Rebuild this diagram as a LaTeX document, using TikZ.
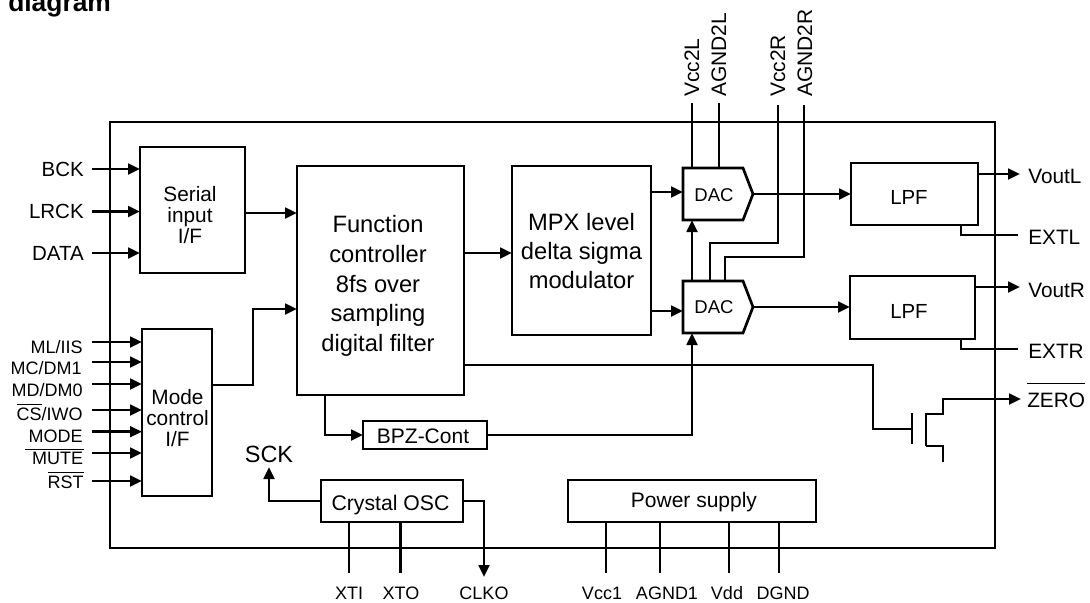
\documentclass[tikz,border=0pt]{standalone}
\usepackage{fontspec}
\setmainfont{Liberation Sans}
\usetikzlibrary{arrows.meta}
\newcommand{\sz}[1]{\fontsize{\dimexpr #1pt*3/4\relax}{\dimexpr #1pt*3/4*6/5\relax}\selectfont}
\newcommand{\ovl}[2]{\leavevmode\vbox{\hrule height 0.8pt\kern #1\hbox{#2}}}
\newcommand{\bx}[6][]{\node[boxs,#1,minimum width={(#4-#2)*0.75pt},minimum height={(#5-#3)*0.75pt}] (#6) at ({(#2+#4)/2},{(#3+#5)/2}) {};}
\tikzset{
  wire/.style={line width=2pt,line join=miter},
  arr/.style={wire,-{Triangle[length=9pt,width=8pt]}},
  boxs/.style={draw,line width=2pt,inner sep=0pt,outer sep=0pt},
  leftlab/.style={anchor=base east,inner sep=0pt,font=\sz{18}},
  biglab/.style={anchor=base east,inner sep=0pt,font=\sz{20.5}},
  rightlab/.style={anchor=base west,inner sep=0pt,font=\sz{20.8}},
  botlab/.style={anchor=base,inner sep=0pt,font=\sz{18}},
  toplab/.style={anchor=west,rotate=90,inner sep=0pt,font=\sz{21}},
  txt/.style={align=center,inner sep=0pt,font=\sz{20.8}},
  base/.style={anchor=base,inner sep=0pt},
  bigtxt/.style={align=center,inner sep=0pt,font=\sz{23.7}},
}
\begin{document}
\begin{tikzpicture}[x=0.75pt,y=-0.75pt]
\useasboundingbox (0,0) rectangle (1090,603);
\fill[white] (0,0) rectangle (1090,603);
\node[anchor=base west,inner sep=0pt,font=\bfseries\sz{26.4}] (title) at (8,12) {diagram};
% boxes
\bx{110}{122}{995}{548}{main}
\bx{140}{147}{245}{273}{ser}
\bx{297}{166}{464}{395}{fn}
\bx{142}{329}{212}{496}{mode}
\bx{512}{166}{651}{335}{mpx}
\bx{851}{163}{978}{225}{lpfL}
\bx{850}{276}{975}{339}{lpfR}
\bx{363}{421}{487}{449}{bpz}
\bx{321}{480}{463}{522}{xtal}
\bx{568}{480}{816}{522}{pwr}
% DACs
\bx[draw=none]{683}{168}{753}{220}{dacL}
\bx[draw=none]{683}{281}{753}{333}{dacR}
\draw[wire] (dacL.north west) -- ([xshift=-7.5pt]dacL.north east) -- (dacL.east) -- ([xshift=-7.5pt]dacL.south east) -- (dacL.south west) -- cycle;
\draw[wire] (dacR.north west) -- ([xshift=-7.5pt]dacR.north east) -- (dacR.east) -- ([xshift=-7.5pt]dacR.south east) -- (dacR.south west) -- cycle;
% box texts
\node[txt] (serT) at (190,215) {Serial\\[-3pt]input\\[-3pt]I/F};
\node[txt] (modeT) at (177.5,418) {Mode\\[-3pt]control\\[-3pt]I/F};
\node[bigtxt] (fnT) at (378,286) {Function\\[.9pt]controller\\[.9pt]8fs over\\[.9pt]sampling\\[.9pt]digital filter};
\node[bigtxt] (mpxT) at (581.5,251) {MPX level\\[.65pt]delta sigma\\[.65pt]modulator};
\node[base,font=\sz{18.5}] (dacLT) at (714,201.7) {DAC};
\node[base,font=\sz{18.5}] (dacRT) at (714,313.5) {DAC};
\node[base,font=\sz{20.4}] (lpfLT) at (909,204) {LPF};
\node[base,font=\sz{20.4}] (lpfRT) at (909,318) {LPF};
\node[base,font=\sz{21}] (bpzT) at (423,443) {BPZ-Cont};
\node[base,font=\sz{21.2}] (xtalT) at (390.5,510) {Crystal OSC};
\node[base,font=\sz{21}] (pwrT) at (694,507) {Power supply};
% left pins
\foreach \n/\y in {bck/169,lrck/211.5,data/253,ml/342,mc/362,md/384,cs/410,mo/431.7,mu/453,rs/481}
  \coordinate (\n) at (92,\y);
\node[biglab] (bckL) at (84,176) {BCK};
\node[biglab] (lrckL) at (84,218) {LRCK};
\node[biglab] (dataL) at (84,260) {DATA};
\node[leftlab] (mlL) at (83,353) {ML/IIS};
\node[leftlab] (mcL) at (82,374) {MC/DM1};
\node[leftlab] (mdL) at (83,396) {MD/DM0};
\node[leftlab] (csL) at (83,420) {\ovl{1.5pt}{CS}/IWO};
\node[leftlab] (moL) at (83,442) {MODE};
\node[leftlab] (muL) at (84,464) {\ovl{1.5pt}{\hspace{5pt}MUTE\hspace{.5pt}}};
\node[leftlab] (rsL) at (84,488) {\ovl{1.5pt}{RST}};
\foreach \n in {bck,lrck,data} \draw[arr] (\n) -- (\n -| ser.west);
\foreach \n in {ml,mc,md,cs,mo,mu,rs} \draw[arr] (\n) -- (\n -| mode.west);
% internal
\coordinate (serOut) at (245,213);
\draw[arr] (serOut) -- (serOut -| fn.west);
\coordinate (modeOut) at (212,385);
\coordinate (modeIn) at (253,309);
\draw[arr] (modeOut) -| (modeIn) -- (modeIn -| fn.west);
\coordinate (fnOut) at (464,253);
\draw[arr] (fnOut) -- (fnOut -| mpx.west);
\coordinate (mpxA) at (651,192);
\coordinate (mpxB) at (651,311);
\draw[arr] (mpxA) -- (mpxA -| dacL.west);
\draw[arr] (mpxB) -- (mpxB -| dacR.west);
\draw[arr] (dacL.east) -- (dacL.east -| lpfL.west);
\draw[arr] (dacR.east) -- (dacR.east -| lpfR.west);
% supply pins
\coordinate (vl) at (692,103);
\coordinate (al) at (719,103);
\coordinate (vr) at (778,105);
\coordinate (ar) at (804,105);
\coordinate (vrb) at (710,243);
\coordinate (arb) at (725,257);
\draw[wire] (vl) -- (vl |- dacL.north);
\draw[wire] (al) -- (al |- dacL.north);
\draw[wire] (vr) |- (vrb) -- (vrb |- dacR.north);
\draw[wire] (ar) |- (arb) -- (arb |- dacR.north);
\coordinate (dacUp) at (692,281);
\draw[arr] (dacUp) -- (dacUp |- dacL.south);
\node[toplab] (vlL) at (692,97) {Vcc2L};
\node[toplab] (alL) at (719,97) {AGND2L};
\node[toplab] (vrL) at (778,97) {Vcc2R};
\node[toplab] (arL) at (805,97) {AGND2R};
% outputs
\coordinate (voL) at (1020,174);
\coordinate (voR) at (1020,287);
\draw[arr] (voL -| lpfL.east) -- (voL);
\draw[arr] (voR -| lpfR.east) -- (voR);
\coordinate (exL) at (1018,235);
\coordinate (exR) at (1018,349);
\coordinate (exLt) at (961,225);
\coordinate (exRt) at (961,339);
\draw[wire] (exLt) |- (exL);
\draw[wire] (exRt) |- (exR);
\node[rightlab] (voLL) at (1028,183) {VoutL};
\node[rightlab] (exLL) at (1028,244) {EXTL};
\node[rightlab] (voRL) at (1028,297) {VoutR};
\node[rightlab] (exRL) at (1028,358) {EXTR};
\node[rightlab] (zeL) at (1027,407) {\ovl{6pt}{ZERO}};
% BPZ
\coordinate (fnB) at (325,395);
\draw[arr] (fnB) |- (bpz.west);
\coordinate (bpzTurn) at (692,435);
\draw[arr] (bpz.east) -- (bpzTurn) -- (bpzTurn |- dacR.south);
% transistor
\coordinate (fnZ) at (464,365);
\coordinate (gate) at (912,429);
\coordinate (gTop) at (912,413);
\coordinate (gBot) at (912,444);
\coordinate (chT) at (926,414);
\coordinate (chB) at (926,446);
\coordinate (dr) at (943,399);
\coordinate (so) at (943,462);
\coordinate (zeOut) at (1021,399);
\coordinate (gateTurn) at (873,365);
\draw[wire] (fnZ) -- (gateTurn) |- (gate);
\draw[wire] (gTop) -- (gBot);
\draw[arr] (chB) -- (chT) -| (dr) -- (zeOut);
\draw[wire] (chB) -| (so);
% crystal
\node[base,font=\sz{23.5}] (sckL) at (269,462) {SCK};
\coordinate (sckTip) at (269,467);
\draw[arr] (xtal.west) -| (sckTip);
\coordinate (clkoOut) at (484,577);
\draw[arr] (xtal.east) -| (clkoOut);
\foreach \n/\x in {xti/349,xto/400.5}{
  \coordinate (\n) at (\x,573);
  \draw[wire] (\n |- xtal.south) -- (\n);
}
\foreach \n/\x in {vcc/606,agn/660,vdd/729,dgn/779}{
  \coordinate (\n) at (\x,573);
  \draw[wire] (\n |- pwr.south) -- (\n);
}
\node[botlab] (xtiL) at (349,599) {XTI};
\node[botlab] (xtoL) at (401,599) {XTO};
\node[botlab] (clkL) at (484,599) {CLKO};
\node[botlab] (vccL) at (602,599) {Vcc1};
\node[botlab] (agnL) at (667,599) {AGND1};
\node[botlab] (vddL) at (727,599) {Vdd};
\node[botlab] (dgnL) at (783,599) {DGND};
\end{tikzpicture}
\end{document}
